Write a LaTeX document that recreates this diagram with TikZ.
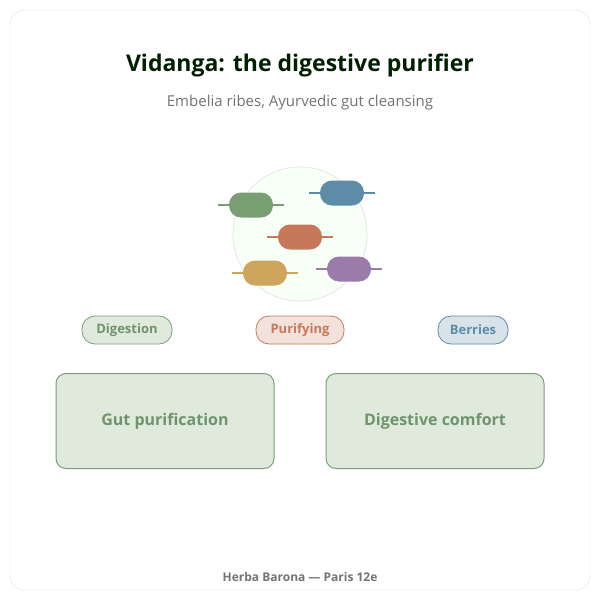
\documentclass[tikz,border=0pt]{standalone}
\usepackage{fontspec}
\setmainfont{Open Sans}
\begin{document}
\begin{tikzpicture}[x=1pt,y=-1pt,
 pill/.style={rounded corners=12pt,minimum width=44pt,minimum height=25pt,inner sep=0},
 stick/.style={line width=2.5pt},
 tag/.style={rounded corners=13pt,minimum height=28pt,draw,line width=0.8pt,font=\bfseries\fontsize{13}{15}\selectfont},
 box/.style={draw=gbd,fill=gfill,rounded corners=10pt,line width=1pt,minimum width=218pt,minimum height=95pt,text=gtx,font=\bfseries\fontsize{16}{18}\selectfont}]
\definecolor{gfill}{HTML}{DFEADD}\definecolor{gbd}{HTML}{7C9E78}\definecolor{gtx}{HTML}{6F946B}
\definecolor{pg}{HTML}{7A9E74}\definecolor{pb}{HTML}{5E8BA8}\definecolor{po}{HTML}{C8785A}
\definecolor{py}{HTML}{CDA55C}\definecolor{pp}{HTML}{9A7BAA}
\useasboundingbox (0,0) rectangle (600,600);
\draw[draw=black!12,fill=white,rounded corners=14pt] (10,10) rectangle (590,590);
\node[font=\bfseries\fontsize{23}{26}\selectfont,text=black!80!green!60!black] (t) at (300,65) {Vidanga: the digestive purifier};
\node[font=\fontsize{15}{18}\selectfont,text=black!55] (s) at (300,103) {Embelia ribes, Ayurvedic gut cleansing};
\node[circle,minimum size=134pt,fill=black!4!green!3,draw=black!10,line width=0.8pt] (c) at (300,234) {};
\foreach \n/\x/\y/\c in {g/251/205/pg,b/342/193/pb,o/300/237/po,y/265/273/py,p/349/269/pp}{
 \draw[stick,\c] (\x-33,\y) -- (\x+33,\y);
 \node[pill,fill=\c] (\n) at (\x,\y) {};
}
\node[tag,draw=gbd,fill=gfill,text=gtx,minimum width=90pt] (d) at (127,330) {Digestion};
\node[tag,draw=po,fill=po!22,text=po,minimum width=88pt] (pu) at (300,330) {Purifying};
\node[tag,draw=pb,fill=pb!25,text=pb,minimum width=70pt] (be) at (473,330) {Berries};
\node[box] (b1) at (165,421) {Gut purification};
\node[box] (b2) at (435,421) {Digestive comfort};
\node[font=\bfseries\fontsize{12}{14}\selectfont,text=black!55] (f) at (300,577) {Herba Barona — Paris 12e};
\end{tikzpicture}
\end{document}
